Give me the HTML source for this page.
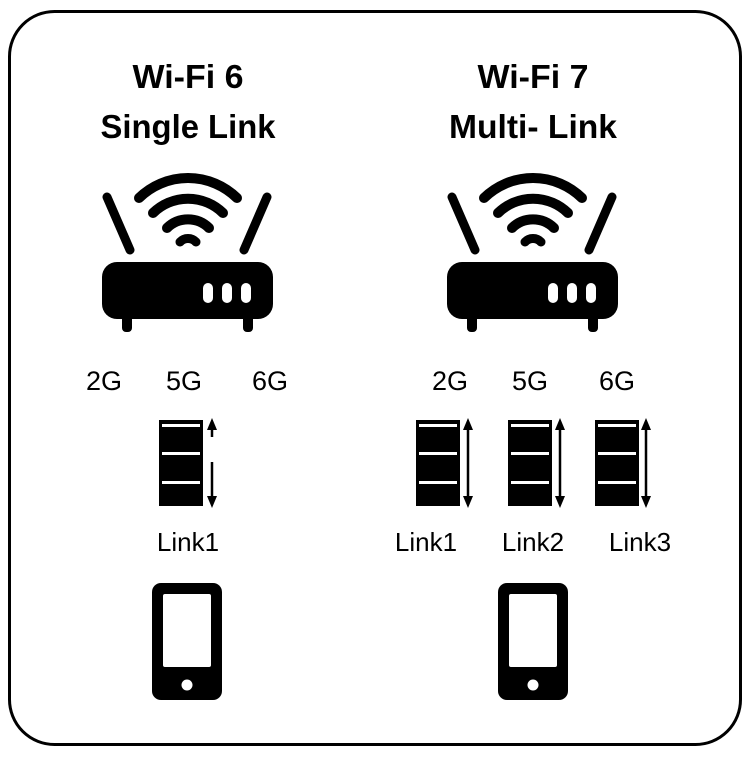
<!DOCTYPE html>
<html><head><meta charset="utf-8"><style>
html,body{margin:0;padding:0;background:#fff;}
svg{display:block;}
text{font-family:"Liberation Sans",sans-serif;fill:#000;}
</style></head><body>
<svg width="750" height="766" viewBox="0 0 750 766" xmlns="http://www.w3.org/2000/svg">
<defs>
<g id="router">
  <line x1="107" y1="197" x2="130" y2="250" stroke="#000" stroke-width="9" stroke-linecap="round"/>
  <line x1="267" y1="197" x2="244" y2="250" stroke="#000" stroke-width="9" stroke-linecap="round"/>
  <path d="M139 198 A70 70 0 0 1 237 198" fill="none" stroke="#000" stroke-width="10" stroke-linecap="round"/>
  <path d="M153 213 A50 50 0 0 1 223 213" fill="none" stroke="#000" stroke-width="10" stroke-linecap="round"/>
  <path d="M167 228 A30 30 0 0 1 209 228" fill="none" stroke="#000" stroke-width="10" stroke-linecap="round"/>
  <path d="M180 242 A11 11 0 0 1 196 242" fill="none" stroke="#000" stroke-width="9" stroke-linecap="round"/>
  <rect x="102" y="262" width="171" height="57" rx="15" fill="#000"/>
  <rect x="122" y="312" width="10" height="20" rx="4" fill="#000"/>
  <rect x="243" y="312" width="10" height="20" rx="4" fill="#000"/>
  <rect x="203" y="283" width="10" height="20" rx="5" fill="#fff"/>
  <rect x="222" y="283" width="10" height="20" rx="5" fill="#fff"/>
  <rect x="241" y="283" width="10" height="20" rx="5" fill="#fff"/>
</g>
<g id="stack">
  <rect x="0" y="0" width="44" height="86" fill="#000"/>
  <rect x="3" y="4" width="38" height="3" fill="#fff"/>
  <rect x="3" y="32" width="38" height="3" fill="#fff"/>
  <rect x="3" y="61" width="38" height="3" fill="#fff"/>
</g>
<g id="phone">
  <rect x="152" y="583" width="70" height="117" rx="9" fill="#000"/>
  <rect x="163" y="594" width="48" height="73" rx="2" fill="#fff"/>
  <circle cx="187" cy="685" r="5.5" fill="#fff"/>
</g>
<g id="darrow">
  <line x1="0" y1="8" x2="0" y2="82" stroke="#000" stroke-width="2.5"/>
  <polygon points="0,0 -5,12 5,12" fill="#000"/>
  <polygon points="0,90 -5,78 5,78" fill="#000"/>
</g>
</defs>
<rect x="9.5" y="11.5" width="731" height="733" rx="45" fill="#fff" stroke="#000" stroke-width="3"/>

<text x="188" y="88" font-size="33" font-weight="bold" text-anchor="middle" textLength="111" lengthAdjust="spacingAndGlyphs">Wi-Fi 6</text>
<text x="188" y="138" font-size="33" font-weight="bold" text-anchor="middle" textLength="175" lengthAdjust="spacingAndGlyphs">Single Link</text>
<text x="533" y="88" font-size="33" font-weight="bold" text-anchor="middle" textLength="111" lengthAdjust="spacingAndGlyphs">Wi-Fi 7</text>
<text x="533" y="138" font-size="33" font-weight="bold" text-anchor="middle" textLength="168" lengthAdjust="spacingAndGlyphs">Multi- Link</text>

<use href="#router"/>
<use href="#router" transform="translate(345,0)"/>

<g font-size="27" text-anchor="middle">
<text x="104" y="390">2G</text><text x="184" y="390">5G</text><text x="270" y="390">6G</text>
<text x="450" y="390">2G</text><text x="530" y="390">5G</text><text x="617" y="390">6G</text>
</g>

<use href="#stack" transform="translate(159,420)"/>
<line x1="212" y1="426" x2="212" y2="437" stroke="#000" stroke-width="2.5"/>
<polygon points="212,418 207,430 217,430" fill="#000"/>
<line x1="212" y1="462" x2="212" y2="500" stroke="#000" stroke-width="2.5"/>
<polygon points="212,508 207,496 217,496" fill="#000"/>

<use href="#stack" transform="translate(416,420)"/>
<use href="#darrow" transform="translate(468,418)"/>
<use href="#stack" transform="translate(508,420)"/>
<use href="#darrow" transform="translate(560,418)"/>
<use href="#stack" transform="translate(595,420)"/>
<use href="#darrow" transform="translate(646,418)"/>

<g font-size="26" text-anchor="middle">
<text x="188" y="551">Link1</text>
<text x="426" y="551">Link1</text>
<text x="533" y="551">Link2</text>
<text x="640" y="551">Link3</text>
</g>

<use href="#phone"/>
<use href="#phone" transform="translate(346,0)"/>
</svg>
</body></html>
